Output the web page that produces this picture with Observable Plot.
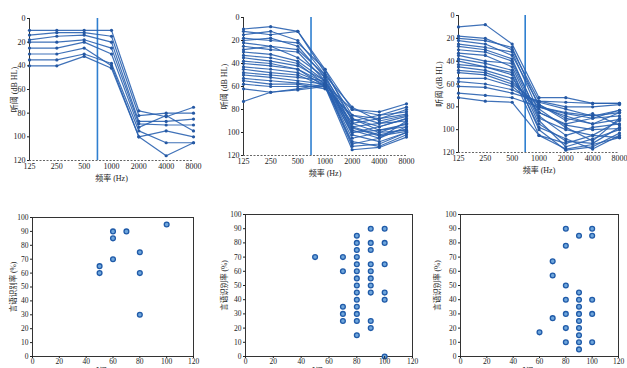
<!DOCTYPE html>
<html><head><meta charset="utf-8">
<script src="https://cdn.jsdelivr.net/npm/d3@7"></script>
<script src="https://cdn.jsdelivr.net/npm/@observablehq/plot@0.6"></script>
<style>
html,body{margin:0;padding:0;background:#fff;}
#wrap{position:relative;width:627px;height:368px;overflow:hidden;background:#fff;}
#wrap > div{position:absolute;}
</style></head>
<body><div id="wrap"></div>
<script>
// ---------- data ----------
const freqs = [125, 250, 500, 1000, 2000, 4000, 8000];
const freqLabels = ["125", "250", "500", "1000", "2000", "4000", "8000"];
const dbTicks = [0, 20, 40, 60, 80, 100, 120];
const cutoffHz = 700;

// group 1 audiograms (dB HL at each frequency)
const group1 = [
  [10, 10, 10, 10, 78, 83, 75],
  [14, 12, 12, 15, 82, 80, 80],
  [18, 15, 14, 20, 87, 87, 85],
  [20, 20, 18, 25, 89, 90, 90],
  [25, 25, 20, 30, 92, 82, 95],
  [30, 30, 25, 40, 100, 95, 100],
  [35, 35, 30, 38, 95, 105, 105],
  [40, 40, 32, 42, 100, 116, 105]
];
// group 2 audiograms
const group2 = [
  [10, 8, 12, 45, 80, 82, 75],
  [12, 15, 12, 48, 85, 88, 80],
  [15, 12, 20, 50, 78, 90, 85],
  [18, 20, 22, 45, 90, 85, 82],
  [20, 18, 25, 52, 88, 95, 88],
  [22, 25, 28, 50, 95, 92, 90],
  [25, 28, 30, 55, 92, 100, 92],
  [28, 25, 35, 52, 100, 98, 95],
  [30, 32, 38, 55, 98, 105, 90],
  [33, 35, 40, 58, 105, 100, 98],
  [35, 38, 42, 55, 102, 108, 100],
  [38, 40, 45, 57, 110, 105, 95],
  [40, 42, 45, 60, 108, 112, 102],
  [43, 45, 48, 58, 112, 110, 100],
  [45, 48, 50, 60, 115, 113, 104],
  [48, 50, 52, 55, 95, 102, 97],
  [50, 52, 55, 58, 88, 98, 93],
  [53, 55, 57, 60, 100, 95, 88],
  [55, 58, 58, 62, 85, 92, 86],
  [58, 60, 60, 60, 92, 88, 84],
  [62, 65, 62, 58, 80, 85, 78],
  [73, 65, 63, 60, 96, 103, 99]
];
// group 3 audiograms
const group3 = [
  [10, 8, 25, 72, 72, 77, 77],
  [18, 20, 30, 75, 80, 80, 78],
  [20, 22, 28, 80, 85, 88, 83],
  [22, 25, 35, 78, 90, 95, 85],
  [25, 28, 32, 85, 95, 90, 88],
  [27, 30, 38, 90, 100, 105, 92],
  [30, 32, 40, 88, 105, 98, 95],
  [33, 35, 45, 95, 110, 112, 98],
  [35, 40, 42, 92, 115, 108, 100],
  [38, 42, 48, 100, 118, 115, 103],
  [40, 45, 50, 98, 108, 117, 105],
  [43, 45, 52, 105, 112, 105, 107],
  [45, 48, 55, 85, 96, 100, 99],
  [48, 50, 58, 80, 88, 95, 91],
  [50, 52, 60, 78, 92, 86, 96],
  [55, 55, 62, 82, 98, 110, 90],
  [58, 60, 65, 76, 82, 88, 85],
  [62, 63, 68, 75, 76, 77, 77],
  [68, 70, 72, 80, 86, 90, 83],
  [72, 75, 76, 105, 117, 113, 107]
];

// scatter: threshold (dB HL) vs speech recognition score (%)
const scatter1X = [50, 50, 60, 60, 60, 70, 80, 80, 80, 100];
const scatter1Y = [65, 60, 90, 85, 70, 90, 75, 60, 30, 95];
const scatter2X = [50, 70, 70, 70, 70, 70,
  80, 80, 80, 80, 80, 80, 80, 80, 80, 80, 80, 80, 80, 80,
  90, 90, 90, 90, 90, 90, 90, 90, 90, 90,
  100, 100, 100, 100, 100, 100];
const scatter2Y = [70, 70, 60, 35, 30, 25,
  85, 80, 75, 70, 65, 60, 55, 50, 45, 40, 35, 30, 25, 15,
  90, 80, 75, 65, 60, 55, 50, 45, 25, 20,
  90, 80, 65, 45, 40, 0];
const scatter3X = [60, 70, 70, 70, 80, 80, 80, 80, 80, 80, 80,
  90, 90, 90, 90, 90, 90, 90, 90, 90, 90, 100, 100, 100, 100, 100];
const scatter3Y = [17, 67, 57, 27, 90, 78, 50, 40, 30, 20, 10,
  85, 45, 40, 35, 30, 25, 20, 15, 10, 5, 90, 85, 40, 30, 10];
const xTicksBottom = [0, 20, 40, 60, 80, 100, 120];
const yTicksBottom = [0, 10, 20, 30, 40, 50, 60, 70, 80, 90, 100];

const labelFreq = "频率 (Hz)";
const labelThr = "听阈 (dB HL)";
const labelSpeech = "言语识别率 (%)";

// ---------- drawing ----------
const FONT = "'Liberation Serif','Noto Sans CJK SC',serif";
const LINE = "#2a62b0";
const wrap = document.getElementById("wrap");
const octave = f => Math.log2(f / freqs[0]); // octaves above 125 Hz
const octTicks = freqs.map(octave);

function place(node, left, top) {
  const d = document.createElement("div");
  d.style.left = left + "px"; d.style.top = top + "px";
  d.appendChild(node); wrap.appendChild(d);
}

function audiogram(group, box) {
  const rows = group.flatMap((vals, i) => vals.map((v, j) => ({o: octave(freqs[j]), db: v, id: i})));
  return Plot.plot({
    width: box.w, height: box.h,
    marginLeft: box.ml, marginRight: box.mr, marginTop: box.mt, marginBottom: box.mb,
    style: {fontSize: "8px", fontFamily: FONT, color: "#222", background: "transparent"},
    x: {type: "linear", domain: [octTicks[0], octTicks[octTicks.length - 1]]},
    y: {domain: [0, 120], reverse: true},
    marks: [
      Plot.ruleY([120], {stroke: "#666", strokeDasharray: "2,1.5"}),
      Plot.ruleX([octTicks[0]], {stroke: "#333", strokeWidth: 1}),
      Plot.ruleX([octave(cutoffHz)], {stroke: "#2f7fd0", strokeWidth: 1.6}),
      Plot.line(rows, {x: "o", y: "db", z: "id", stroke: LINE, strokeWidth: 1.2, strokeOpacity: 0.9}),
      Plot.dot(rows, {x: "o", y: "db", fill: "#2558a3", r: 1.6}),
      Plot.axisX(octTicks, {tickFormat: d => freqLabels[octTicks.indexOf(d)], tickSize: 0, tickPadding: 3,
        label: labelFreq, labelAnchor: "center", labelArrow: "none", labelOffset: box.lo}),
      Plot.axisY(dbTicks, {tickSize: 2, tickPadding: 2, label: labelThr, labelAnchor: "center",
        labelArrow: "none", labelOffset: box.lyo})
    ]
  });
}

function scatter(xs, ys, box) {
  const rows = xs.map((x, i) => ({x, y: ys[i]}));
  return Plot.plot({
    width: box.w, height: box.h,
    marginLeft: box.ml, marginRight: box.mr, marginTop: box.mt, marginBottom: box.mb,
    style: {fontSize: "7.5px", fontFamily: FONT, color: "#222", background: "transparent"},
    x: {domain: [0, 120]},
    y: {domain: [0, 100]},
    marks: [
      Plot.frame({stroke: "#333"}),
      Plot.dot(rows, {x: "x", y: "y", r: 2.4, fill: "#6fa6dc", stroke: "#1f5aa8", strokeWidth: 1.3}),
      Plot.axisX(xTicksBottom, {tickSize: 2, tickPadding: 0, label: labelThr, labelAnchor: "center",
        labelArrow: "none", labelOffset: 17}),
      Plot.axisY(yTicksBottom, {tickSize: 2, tickPadding: 2, label: labelSpeech, labelAnchor: "center",
        labelArrow: "none", labelOffset: box.lyo})
    ]
  });
}

place(audiogram(group1, {w: 205, h: 185, ml: 29, mr: 12, mt: 18, mb: 25, lo: 20, lyo: 18}), 0, 0);
place(audiogram(group2, {w: 210, h: 185, ml: 38, mr: 9, mt: 17, mb: 30, lo: 20, lyo: 22}), 205, 0);
place(audiogram(group3, {w: 212, h: 185, ml: 43, mr: 8, mt: 15, mb: 33, lo: 20, lyo: 22}), 415, 0);

place(scatter(scatter1X, scatter1Y, {w: 205, h: 200, ml: 32, mr: 12, mt: 32, mb: 29, lyo: 22}), 0, 185);
place(scatter(scatter2X, scatter2Y, {w: 215, h: 200, ml: 40, mr: 8, mt: 29, mb: 29, lyo: 24}), 205, 185);
place(scatter(scatter3X, scatter3Y, {w: 212, h: 200, ml: 45, mr: 9, mt: 29, mb: 29, lyo: 26}), 415, 185);
</script>
</body></html>
